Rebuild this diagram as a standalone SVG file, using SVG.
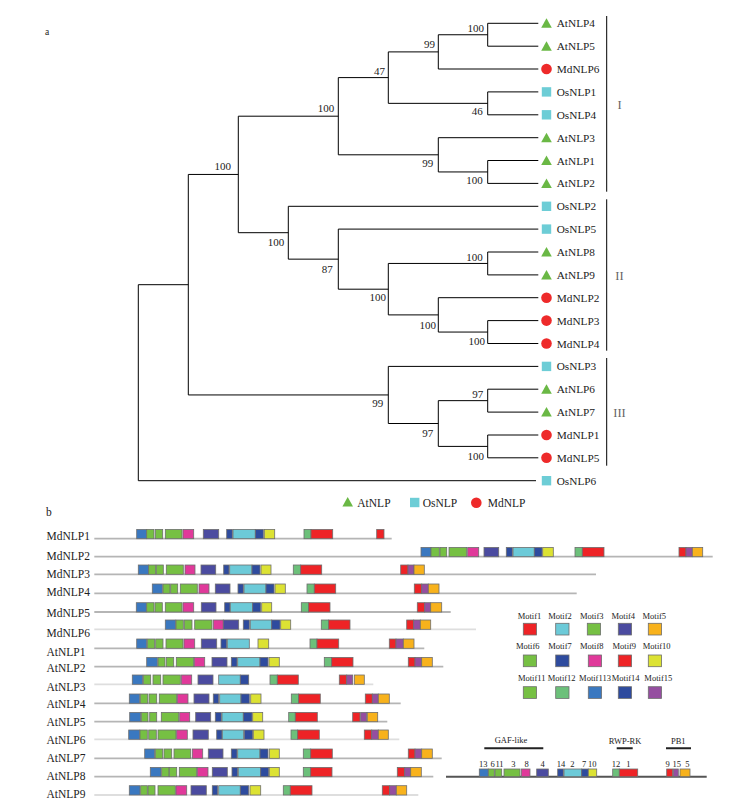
<svg xmlns="http://www.w3.org/2000/svg" width="747" height="804" viewBox="0 0 747 804">
<style>
text{font-family:"Liberation Serif","Times New Roman",serif;fill:#222}
.lf{font-size:11.3px}
.bs{font-size:11px}
.cl{font-size:12.5px;fill:#666}
.ml{font-size:8.5px;text-anchor:middle}
.tree{fill:none;stroke:#000;stroke-width:1}
.row line{stroke:#b5b5b5;stroke-width:1.8}
.bx rect,rect.bx{stroke:#6e6e6e;stroke-width:0.8}
.m1,.m9{fill:#ee2326}.m2{fill:#6ccad8}.m3,.m6,.m11{fill:#76c043}.m4{fill:#4b4ba0}.m5{fill:#f8b21c}
.m7,.m14{fill:#2e4b9e}.m8{fill:#e0399a}.m10{fill:#dce233}.m12{fill:#6cc07a}.m13{fill:#3a78c0}.m15{fill:#954ea0}
.tri{fill:#6ab845}.sq{fill:#6dcdd6}.ci{fill:#ee2a2a}
</style>
<defs>
<path id="tri" class="tri" d="M0,-5 L5.3,4.5 L-5.3,4.5 Z"/>
<rect id="sq" class="sq" x="-4.7" y="-4.7" width="9.4" height="9.4"/>
<circle id="ci" class="ci" r="5.3"/>
</defs>
<text x="45" y="34.5" style="font-size:9.5px">a</text>
<text x="46" y="516" style="font-size:11.5px">b</text>
<g id="connectors">
<path class="tree" d="M138.3,284.7V480.7H536M138.3,284.7H188.3
M188.3,174.45V394.95M188.3,174.45H238.3M188.3,394.95H388.3
M238.3,116.2V232.7M238.3,116.2H338.3M238.3,232.7H288.3
M338.3,77.6V154.8M338.3,77.6H388.3M338.3,154.8H438.3
M388.3,51.9V103.35M388.3,51.9H438.3M388.3,103.35H487.7
M438.3,34.75V69M438.3,34.75H487.7M438.3,69H538.3
M487.7,23.3V46.2M487.7,23.3H538.3M487.7,46.2H538.3
M487.7,91.9V114.8M487.7,91.9H538.3M487.7,114.8H538.3
M438.3,137.7V171.95M438.3,137.7H538.3M438.3,171.95H487.7
M487.7,160.5V183.4M487.7,160.5H538.3M487.7,183.4H538.3
M288.3,206.3V259.15M288.3,206.3H538.3M288.3,259.15H338.3
M338.3,229.1V289.2M338.3,229.1H538.3M338.3,289.2H388.3
M388.3,263.45V314.9M388.3,263.45H487.7M388.3,314.9H438.3
M487.7,252V274.9M487.7,252H538.3M487.7,274.9H538.3
M438.3,297.7V332.05M438.3,297.7H538.3M438.3,332.05H487.7
M487.7,320.6V343.5M487.7,320.6H538.3M487.7,343.5H538.3
M388.3,366.4V423.5M388.3,366.4H538.3M388.3,423.5H438.3
M438.3,400.65V446.4M438.3,400.65H487.7M438.3,446.4H487.7
M487.7,389.2V412.1M487.7,389.2H538.3M487.7,412.1H538.3
M487.7,435V457.8M487.7,435H538.3M487.7,457.8H538.3"/>
<path class="tree" d="M606.7,16V191.7M606.7,199.3V350.7M606.7,358V465.7"/>
</g>
<g id="bootstrap" class="bs" text-anchor="end">
<text x="484" y="31.7">100</text>
<text x="435" y="48.3">99</text>
<text x="385" y="74.7">47</text>
<text x="482.7" y="114.7">46</text>
<text x="433.3" y="166.7">99</text>
<text x="482.7" y="184">100</text>
<text x="334.3" y="112.3">100</text>
<text x="231" y="169.7">100</text>
<text x="284.3" y="245.7">100</text>
<text x="332.7" y="273.3">87</text>
<text x="386" y="301.3">100</text>
<text x="482.7" y="260.7">100</text>
<text x="436" y="329">100</text>
<text x="485" y="344.7">100</text>
<text x="383.3" y="407.3">99</text>
<text x="433.3" y="436.7">97</text>
<text x="483.3" y="398.3">97</text>
<text x="484" y="460">100</text>
</g>
<g id="clades">
<text class="cl" x="619.5" y="108.8" text-anchor="middle">I</text>
<text class="cl" x="619.5" y="279.5" text-anchor="middle">II</text>
<text class="cl" x="619.5" y="416.5" text-anchor="middle">III</text>
</g>
<g id="leaves" class="lf">
<g id="leaf-AtNLP4"><use href="#tri" x="546.5" y="23.3"/><text x="556.7" y="27.3">AtNLP4</text></g>
<g id="leaf-AtNLP5"><use href="#tri" x="546.5" y="46.2"/><text x="556.7" y="50.2">AtNLP5</text></g>
<g id="leaf-MdNLP6"><use href="#ci" x="546.5" y="69"/><text x="556.7" y="73">MdNLP6</text></g>
<g id="leaf-OsNLP1"><use href="#sq" x="546.5" y="91.9"/><text x="556.7" y="95.9">OsNLP1</text></g>
<g id="leaf-OsNLP4"><use href="#sq" x="546.5" y="114.8"/><text x="556.7" y="118.8">OsNLP4</text></g>
<g id="leaf-AtNLP3"><use href="#tri" x="546.5" y="137.7"/><text x="556.7" y="141.7">AtNLP3</text></g>
<g id="leaf-AtNLP1"><use href="#tri" x="546.5" y="160.5"/><text x="556.7" y="164.5">AtNLP1</text></g>
<g id="leaf-AtNLP2"><use href="#tri" x="546.5" y="183.4"/><text x="556.7" y="187.4">AtNLP2</text></g>
<g id="leaf-OsNLP2"><use href="#sq" x="546.5" y="206.3"/><text x="556.7" y="210.3">OsNLP2</text></g>
<g id="leaf-OsNLP5"><use href="#sq" x="546.5" y="229.1"/><text x="556.7" y="233.1">OsNLP5</text></g>
<g id="leaf-AtNLP8"><use href="#tri" x="546.5" y="252"/><text x="556.7" y="256">AtNLP8</text></g>
<g id="leaf-AtNLP9"><use href="#tri" x="546.5" y="274.9"/><text x="556.7" y="278.9">AtNLP9</text></g>
<g id="leaf-MdNLP2"><use href="#ci" x="546.5" y="297.7"/><text x="556.7" y="301.7">MdNLP2</text></g>
<g id="leaf-MdNLP3"><use href="#ci" x="546.5" y="320.6"/><text x="556.7" y="324.6">MdNLP3</text></g>
<g id="leaf-MdNLP4"><use href="#ci" x="546.5" y="343.5"/><text x="556.7" y="347.5">MdNLP4</text></g>
<g id="leaf-OsNLP3"><use href="#sq" x="546.5" y="366.4"/><text x="556.7" y="370.4">OsNLP3</text></g>
<g id="leaf-AtNLP6"><use href="#tri" x="546.5" y="389.2"/><text x="556.7" y="393.2">AtNLP6</text></g>
<g id="leaf-AtNLP7"><use href="#tri" x="546.5" y="412.1"/><text x="556.7" y="416.1">AtNLP7</text></g>
<g id="leaf-MdNLP1"><use href="#ci" x="546.5" y="435"/><text x="556.7" y="439">MdNLP1</text></g>
<g id="leaf-MdNLP5"><use href="#ci" x="546.5" y="457.8"/><text x="556.7" y="461.8">MdNLP5</text></g>
<g id="leaf-OsNLP6"><use href="#sq" x="546.5" y="480.7"/><text x="556.7" y="484.7">OsNLP6</text></g>
</g>
<g id="species-legend" style="font-size:11.5px">
<use href="#tri" x="347.7" y="502"/><text x="357.3" y="506.5">AtNLP</text>
<use href="#sq" x="414.7" y="502.5"/><text x="422.7" y="506.5">OsNLP</text>
<use href="#ci" x="476.3" y="502.7"/><text x="487.7" y="506.5">MdNLP</text>
</g>
<g id="row-labels" style="font-size:11.5px">
<text x="46.5" y="539.5">MdNLP1</text><text x="46.5" y="559.5">MdNLP2</text><text x="46.5" y="578">MdNLP3</text>
<text x="46.5" y="595.5">MdNLP4</text><text x="46.5" y="616.5">MdNLP5</text><text x="46.5" y="637">MdNLP6</text>
<text x="46.5" y="656">AtNLP1</text><text x="46.5" y="672">AtNLP2</text><text x="46.5" y="690.5">AtNLP3</text>
<text x="46.5" y="708">AtNLP4</text><text x="46.5" y="725.5">AtNLP5</text><text x="46.5" y="744">AtNLP6</text>
<text x="46.5" y="761.5">AtNLP7</text><text x="46.5" y="780">AtNLP8</text><text x="46.5" y="798">AtNLP9</text>
</g>
<g id="row-MdNLP1" class="row bx" transform="translate(0,529.4)"><line x1="94.3" y1="9.3" x2="391.7" y2="9.3"/>
<rect class="m13" x="136.7" width="10" height="9.3"/><rect class="m6" x="146.7" width="7.3" height="9.3"/><rect class="m11" x="155.3" width="7.4" height="9.3"/><rect class="m3" x="165.3" width="16.7" height="9.3"/><rect class="m8" x="183" width="10.7" height="9.3"/><rect class="m4" x="203.3" width="15.4" height="9.3"/><rect class="m14" x="226.7" width="5.6" height="9.3"/><rect class="m2" x="233" width="22.3" height="9.3"/><rect class="m7" x="255.3" width="8" height="9.3"/><rect class="m10" x="264.3" width="10.4" height="9.3"/><rect class="m12" x="304" width="7" height="9.3"/><rect class="m1" x="311" width="21.7" height="9.3"/><rect class="m9" x="376.7" width="7.3" height="9.3"/></g>
<g id="row-MdNLP2" class="row bx" transform="translate(0,547.4)"><line x1="94.3" y1="9.3" x2="712.7" y2="9.3"/>
<rect class="m13" x="421" width="10" height="9.3"/><rect class="m6" x="431" width="8.3" height="9.3"/><rect class="m11" x="440" width="6.7" height="9.3"/><rect class="m3" x="449" width="17.7" height="9.3"/><rect class="m8" x="467.7" width="11" height="9.3"/><rect class="m4" x="484" width="14.7" height="9.3"/><rect class="m14" x="506.3" width="6" height="9.3"/><rect class="m2" x="513" width="21.3" height="9.3"/><rect class="m7" x="534.3" width="7.7" height="9.3"/><rect class="m10" x="542.7" width="10.6" height="9.3"/><rect class="m12" x="575" width="7.3" height="9.3"/><rect class="m1" x="582.3" width="21.7" height="9.3"/><rect class="m9" x="679" width="7" height="9.3"/><rect class="m15" x="686" width="6.3" height="9.3"/><rect class="m5" x="692.3" width="10.4" height="9.3"/></g>
<g id="row-MdNLP3" class="row bx" transform="translate(0,565)"><line x1="94.3" y1="9.3" x2="596" y2="9.3"/>
<rect class="m13" x="138.3" width="10.4" height="9.3"/><rect class="m6" x="148.7" width="7" height="9.3"/><rect class="m11" x="156.3" width="7" height="9.3"/><rect class="m3" x="166.3" width="17" height="9.3"/><rect class="m8" x="185" width="10" height="9.3"/><rect class="m4" x="201" width="14.7" height="9.3"/><rect class="m14" x="223.7" width="5.3" height="9.3"/><rect class="m2" x="229.7" width="22.3" height="9.3"/><rect class="m7" x="252" width="8" height="9.3"/><rect class="m10" x="261" width="10" height="9.3"/><rect class="m12" x="293.3" width="7.4" height="9.3"/><rect class="m1" x="300.7" width="21" height="9.3"/><rect class="m9" x="400.7" width="7.3" height="9.3"/><rect class="m15" x="408" width="6" height="9.3"/><rect class="m5" x="414" width="10.3" height="9.3"/></g>
<g id="row-MdNLP4" class="row bx" transform="translate(0,584)"><line x1="94.3" y1="9.3" x2="576.7" y2="9.3"/>
<rect class="m13" x="152.3" width="10" height="9.3"/><rect class="m6" x="163" width="7" height="9.3"/><rect class="m11" x="170.7" width="7" height="9.3"/><rect class="m3" x="180.3" width="17" height="9.3"/><rect class="m8" x="199" width="10" height="9.3"/><rect class="m4" x="215.3" width="14.7" height="9.3"/><rect class="m14" x="238" width="5.3" height="9.3"/><rect class="m2" x="244" width="22" height="9.3"/><rect class="m7" x="266" width="8" height="9.3"/><rect class="m10" x="275" width="10.3" height="9.3"/><rect class="m12" x="307" width="7.3" height="9.3"/><rect class="m1" x="314.3" width="21.4" height="9.3"/><rect class="m9" x="414.3" width="7.4" height="9.3"/><rect class="m15" x="421.7" width="6.6" height="9.3"/><rect class="m5" x="428.3" width="10.7" height="9.3"/></g>
<g id="row-MdNLP5" class="row bx" transform="translate(0,602.7)"><line x1="94.3" y1="9.3" x2="450.7" y2="9.3"/>
<rect class="m13" x="136.3" width="10" height="9.3"/><rect class="m6" x="146.7" width="7.3" height="9.3"/><rect class="m11" x="155" width="7.3" height="9.3"/><rect class="m3" x="165.3" width="16.7" height="9.3"/><rect class="m8" x="183" width="10.7" height="9.3"/><rect class="m4" x="201.3" width="14.7" height="9.3"/><rect class="m14" x="224.7" width="5.3" height="9.3"/><rect class="m2" x="230.3" width="22.4" height="9.3"/><rect class="m7" x="252.7" width="8" height="9.3"/><rect class="m10" x="261.7" width="10" height="9.3"/><rect class="m12" x="301.3" width="7.4" height="9.3"/><rect class="m1" x="308.7" width="21.3" height="9.3"/><rect class="m9" x="417.3" width="7.4" height="9.3"/><rect class="m15" x="424.7" width="6" height="9.3"/><rect class="m5" x="430.7" width="11" height="9.3"/></g>
<g id="row-MdNLP6" class="row bx" transform="translate(0,620)"><line x1="94.3" y1="9.3" x2="476" y2="9.3" style="stroke:#dedede"/>
<rect class="m13" x="165.3" width="10.4" height="9.3"/><rect class="m6" x="176" width="7.3" height="9.3"/><rect class="m11" x="184.3" width="7.7" height="9.3"/><rect class="m3" x="194.7" width="17.3" height="9.3"/><rect class="m8" x="213.3" width="10" height="9.3"/><rect class="m4" x="223.3" width="15.4" height="9.3"/><rect class="m14" x="243.3" width="6" height="9.3"/><rect class="m2" x="250.3" width="21.4" height="9.3"/><rect class="m7" x="271.7" width="8.3" height="9.3"/><rect class="m10" x="280.7" width="10" height="9.3"/><rect class="m12" x="321.3" width="7.4" height="9.3"/><rect class="m1" x="328.7" width="21.3" height="9.3"/><rect class="m9" x="406.7" width="7" height="9.3"/><rect class="m15" x="413.7" width="6.6" height="9.3"/><rect class="m5" x="420.3" width="10.4" height="9.3"/></g>
<g id="row-AtNLP1" class="row bx" transform="translate(0,639)"><line x1="94.3" y1="9.3" x2="424.3" y2="9.3"/>
<rect class="m13" x="136.7" width="10" height="9.3"/><rect class="m6" x="147.3" width="7.4" height="9.3"/><rect class="m11" x="155.7" width="7.3" height="9.3"/><rect class="m3" x="166" width="17" height="9.3"/><rect class="m8" x="184" width="10.7" height="9.3"/><rect class="m4" x="201.3" width="15.4" height="9.3"/><rect class="m14" x="221" width="5.7" height="9.3"/><rect class="m2" x="227.3" width="22" height="9.3"/><rect class="m10" x="258" width="10.7" height="9.3"/><rect class="m12" x="310" width="7" height="9.3"/><rect class="m1" x="317" width="21.7" height="9.3"/><rect class="m9" x="389.3" width="6.7" height="9.3"/><rect class="m15" x="396" width="7.3" height="9.3"/><rect class="m5" x="403.3" width="10.7" height="9.3"/></g>
<g id="row-AtNLP2" class="row bx" transform="translate(0,657.4)"><line x1="94.3" y1="9.3" x2="443.3" y2="9.3"/>
<rect class="m13" x="146.7" width="10.6" height="9.3"/><rect class="m6" x="158" width="7" height="9.3"/><rect class="m11" x="166.3" width="7.4" height="9.3"/><rect class="m3" x="176.3" width="17.4" height="9.3"/><rect class="m8" x="194.3" width="10.4" height="9.3"/><rect class="m4" x="212" width="15" height="9.3"/><rect class="m14" x="231.3" width="5.7" height="9.3"/><rect class="m2" x="237.7" width="22.3" height="9.3"/><rect class="m7" x="260" width="8" height="9.3"/><rect class="m10" x="269" width="10.3" height="9.3"/><rect class="m12" x="324.3" width="7.4" height="9.3"/><rect class="m1" x="331.7" width="21.3" height="9.3"/><rect class="m9" x="408.3" width="6.7" height="9.3"/><rect class="m15" x="415" width="6.7" height="9.3"/><rect class="m5" x="421.7" width="10.6" height="9.3"/></g>
<g id="row-AtNLP3" class="row bx" transform="translate(0,675)"><line x1="94.3" y1="9.3" x2="373.3" y2="9.3" style="stroke:#dedede"/>
<rect class="m13" x="132.3" width="10.4" height="9.3"/><rect class="m6" x="143.3" width="7.4" height="9.3"/><rect class="m11" x="153" width="7.7" height="9.3"/><rect class="m3" x="163" width="17.3" height="9.3"/><rect class="m8" x="181.3" width="10.4" height="9.3"/><rect class="m4" x="198" width="15" height="9.3"/><rect class="m2" x="218.7" width="21.6" height="9.3"/><rect class="m7" x="240.3" width="8.4" height="9.3"/><rect class="m12" x="270" width="7.3" height="9.3"/><rect class="m1" x="277.3" width="21" height="9.3"/><rect class="m9" x="339.3" width="7.4" height="9.3"/><rect class="m15" x="346.7" width="6" height="9.3"/><rect class="m5" x="354.3" width="10" height="9.3"/></g>
<g id="row-AtNLP4" class="row bx" transform="translate(0,694)"><line x1="94.3" y1="9.3" x2="400.7" y2="9.3"/>
<rect class="m13" x="129.3" width="10.4" height="9.3"/><rect class="m6" x="140.3" width="7.4" height="9.3"/><rect class="m11" x="149" width="7.7" height="9.3"/><rect class="m3" x="159.3" width="17.4" height="9.3"/><rect class="m8" x="177.3" width="10.7" height="9.3"/><rect class="m4" x="194" width="15" height="9.3"/><rect class="m14" x="213.3" width="5.4" height="9.3"/><rect class="m2" x="219.7" width="21.3" height="9.3"/><rect class="m7" x="241" width="8.3" height="9.3"/><rect class="m10" x="250.7" width="10.3" height="9.3"/><rect class="m12" x="291.3" width="7.4" height="9.3"/><rect class="m1" x="298.7" width="21.6" height="9.3"/><rect class="m9" x="365.3" width="7" height="9.3"/><rect class="m15" x="372.3" width="6" height="9.3"/><rect class="m5" x="378.3" width="11" height="9.3"/></g>
<g id="row-AtNLP5" class="row bx" transform="translate(0,712.4)"><line x1="94.3" y1="9.3" x2="387.3" y2="9.3"/>
<rect class="m13" x="129.7" width="11" height="9.3"/><rect class="m6" x="141.3" width="6.7" height="9.3"/><rect class="m11" x="149.7" width="7" height="9.3"/><rect class="m3" x="161.3" width="17.4" height="9.3"/><rect class="m8" x="179.7" width="10" height="9.3"/><rect class="m4" x="195.7" width="15" height="9.3"/><rect class="m14" x="215.3" width="6" height="9.3"/><rect class="m2" x="222" width="21.3" height="9.3"/><rect class="m7" x="243.3" width="8.7" height="9.3"/><rect class="m10" x="252.7" width="10" height="9.3"/><rect class="m12" x="288.7" width="6.6" height="9.3"/><rect class="m1" x="295.3" width="22" height="9.3"/><rect class="m9" x="352.7" width="7.3" height="9.3"/><rect class="m15" x="360.7" width="6" height="9.3"/><rect class="m5" x="367.3" width="10.4" height="9.3"/></g>
<g id="row-AtNLP6" class="row bx" transform="translate(0,730)"><line x1="94.3" y1="9.3" x2="399.3" y2="9.3" style="stroke:#dedede"/>
<rect class="m13" x="128.7" width="11" height="9.3"/><rect class="m6" x="140" width="7.3" height="9.3"/><rect class="m11" x="148.7" width="7.6" height="9.3"/><rect class="m3" x="158" width="18" height="9.3"/><rect class="m8" x="176.7" width="10.6" height="9.3"/><rect class="m4" x="193" width="15.3" height="9.3"/><rect class="m14" x="216.7" width="5.3" height="9.3"/><rect class="m2" x="222.3" width="21.4" height="9.3"/><rect class="m7" x="244.3" width="8.4" height="9.3"/><rect class="m10" x="253.3" width="10.7" height="9.3"/><rect class="m12" x="291" width="6.7" height="9.3"/><rect class="m1" x="297.7" width="21.6" height="9.3"/><rect class="m9" x="364.3" width="7.4" height="9.3"/><rect class="m15" x="371.7" width="6.6" height="9.3"/><rect class="m5" x="378.3" width="10" height="9.3"/></g>
<g id="row-AtNLP7" class="row bx" transform="translate(0,749)"><line x1="94.3" y1="9.3" x2="441.7" y2="9.3"/>
<rect class="m13" x="144.7" width="10" height="9.3"/><rect class="m6" x="155.3" width="7.4" height="9.3"/><rect class="m11" x="164" width="7.7" height="9.3"/><rect class="m3" x="174" width="16.7" height="9.3"/><rect class="m8" x="192.3" width="10.4" height="9.3"/><rect class="m4" x="208.3" width="14.7" height="9.3"/><rect class="m14" x="231.3" width="5.7" height="9.3"/><rect class="m2" x="237.7" width="22.3" height="9.3"/><rect class="m7" x="260" width="8" height="9.3"/><rect class="m10" x="269.3" width="10" height="9.3"/><rect class="m12" x="303.3" width="7.4" height="9.3"/><rect class="m1" x="310.7" width="21.6" height="9.3"/><rect class="m9" x="408.3" width="6.7" height="9.3"/><rect class="m15" x="415" width="6.7" height="9.3"/><rect class="m5" x="421.7" width="10.6" height="9.3"/></g>
<g id="row-AtNLP8" class="row bx" transform="translate(0,767.4)"><line x1="94.3" y1="9.3" x2="433.3" y2="9.3"/>
<rect class="m13" x="150.3" width="10.7" height="9.3"/><rect class="m6" x="161.7" width="7.3" height="9.3"/><rect class="m11" x="169.3" width="7.4" height="9.3"/><rect class="m3" x="179.3" width="17.4" height="9.3"/><rect class="m8" x="197.3" width="10.7" height="9.3"/><rect class="m4" x="212.3" width="15" height="9.3"/><rect class="m14" x="232" width="5.7" height="9.3"/><rect class="m2" x="238.3" width="22.4" height="9.3"/><rect class="m7" x="260.7" width="8" height="9.3"/><rect class="m10" x="269.3" width="10" height="9.3"/><rect class="m12" x="303.3" width="7.4" height="9.3"/><rect class="m1" x="310.7" width="21.3" height="9.3"/><rect class="m9" x="397.3" width="7.4" height="9.3"/><rect class="m15" x="404.7" width="6" height="9.3"/><rect class="m5" x="410.7" width="10.6" height="9.3"/></g>
<g id="row-AtNLP9" class="row bx" transform="translate(0,785.7)"><line x1="94.3" y1="9.3" x2="418.3" y2="9.3" style="stroke:#dedede"/>
<rect class="m13" x="129.3" width="10.7" height="9.3"/><rect class="m6" x="140.7" width="6.6" height="9.3"/><rect class="m11" x="148" width="7" height="9.3"/><rect class="m3" x="158" width="17.3" height="9.3"/><rect class="m8" x="176" width="10.7" height="9.3"/><rect class="m4" x="191" width="15.3" height="9.3"/><rect class="m14" x="212.3" width="5.4" height="9.3"/><rect class="m2" x="218.7" width="21.6" height="9.3"/><rect class="m7" x="240.3" width="8.4" height="9.3"/><rect class="m10" x="250" width="10.7" height="9.3"/><rect class="m12" x="283.3" width="7" height="9.3"/><rect class="m1" x="290.3" width="21.7" height="9.3"/><rect class="m9" x="382.3" width="7.4" height="9.3"/><rect class="m15" x="389.7" width="6.6" height="9.3"/><rect class="m5" x="396.3" width="10.4" height="9.3"/></g>
<g id="motif-legend" class="bx">
<text class="ml" x="529.5" y="619">Motif1</text><text class="ml" x="560" y="619">Motif2</text><text class="ml" x="591.7" y="619">Motif3</text><text class="ml" x="623.3" y="619">Motif4</text><text class="ml" x="654.3" y="619">Motif5</text>
<rect class="m1" x="523.3" y="623.3" width="13.3" height="11.7"/><rect class="m2" x="555.7" y="623.3" width="13.3" height="11.7"/><rect class="m3" x="587.3" y="623.3" width="13.3" height="11.7"/><rect class="m4" x="618.3" y="623.3" width="13.3" height="11.7"/><rect class="m5" x="648.3" y="623.3" width="13.3" height="11.7"/>
<text class="ml" x="527.7" y="649">Motif6</text><text class="ml" x="560" y="649">Motif7</text><text class="ml" x="591.7" y="649">Motif8</text><text class="ml" x="624.3" y="649">Motif9</text><text class="ml" x="656.7" y="649">Motif10</text>
<rect class="m6" x="523.3" y="655" width="13.3" height="11.7"/><rect class="m7" x="555.7" y="655" width="13.3" height="11.7"/><rect class="m8" x="588.3" y="655" width="13.3" height="11.7"/><rect class="m9" x="618.3" y="655" width="13.3" height="11.7"/><rect class="m10" x="648.3" y="655" width="13.3" height="11.7"/>
<text class="ml" x="531.7" y="681.3">Motif11</text><text class="ml" x="561.7" y="681.3">Motif12</text><text class="ml" x="595" y="681.3">Motif113</text><text class="ml" x="625.7" y="681.3">Motif14</text><text class="ml" x="658.3" y="681.3">Motif15</text>
<rect class="m11" x="523.3" y="686.7" width="13.3" height="11.7"/><rect class="m12" x="555.7" y="686.7" width="13.3" height="11.7"/><rect class="m13" x="588.3" y="686.7" width="13.3" height="11.7"/><rect class="m14" x="618.3" y="686.7" width="13.3" height="11.7"/><rect class="m15" x="648.3" y="686.7" width="13.3" height="11.7"/>
</g>
<g id="schematic" class="bx">
<text class="ml" x="511" y="743">GAF-like</text><text class="ml" x="625" y="743.5">RWP-RK</text><text class="ml" x="678.3" y="743.5">PB1</text>
<path d="M484.3,748.3H543.3M616.7,748.3H632.7M666,748.3H691" stroke="#222" stroke-width="2"/>
<line x1="446" y1="776.7" x2="706.7" y2="776.7" stroke="#555" stroke-width="2"/>
<rect class="m13" x="479.3" y="769" width="9" height="7.7"/><rect class="m6" x="488.3" y="769" width="6" height="7.7"/><rect class="m11" x="495" y="769" width="6.7" height="7.7"/><rect class="m3" x="504" y="769" width="16" height="7.7"/><rect class="m8" x="521.3" y="769" width="8.7" height="7.7"/><rect class="m4" x="536.7" y="769" width="11.6" height="7.7"/><rect class="m14" x="557.7" y="769" width="5.6" height="7.7"/><rect class="m2" x="564" y="769" width="17.7" height="7.7"/><rect class="m7" x="581.7" y="769" width="6.6" height="7.7"/><rect class="m10" x="588.3" y="769" width="8.4" height="7.7"/><rect class="m12" x="612.7" y="769" width="6.6" height="7.7"/><rect class="m1" x="619.3" y="769" width="18.4" height="7.7"/><rect class="m9" x="666.7" y="769" width="6" height="7.7"/><rect class="m15" x="673.3" y="769" width="5" height="7.7"/><rect class="m5" x="680" y="769" width="10" height="7.7"/>
<text class="ml" x="483.3" y="767">13</text><text class="ml" x="492.7" y="767">6</text><text class="ml" x="499.5" y="767">11</text><text class="ml" x="513.3" y="767">3</text><text class="ml" x="526.7" y="767">8</text><text class="ml" x="542.7" y="767">4</text><text class="ml" x="561" y="767">14</text><text class="ml" x="572.3" y="767">2</text><text class="ml" x="584" y="767">7</text><text class="ml" x="592.3" y="767">10</text><text class="ml" x="616" y="767">12</text><text class="ml" x="628.3" y="767">1</text><text class="ml" x="667.7" y="767">9</text><text class="ml" x="676.7" y="767">15</text><text class="ml" x="687.3" y="767">5</text>
</g>
</svg>
